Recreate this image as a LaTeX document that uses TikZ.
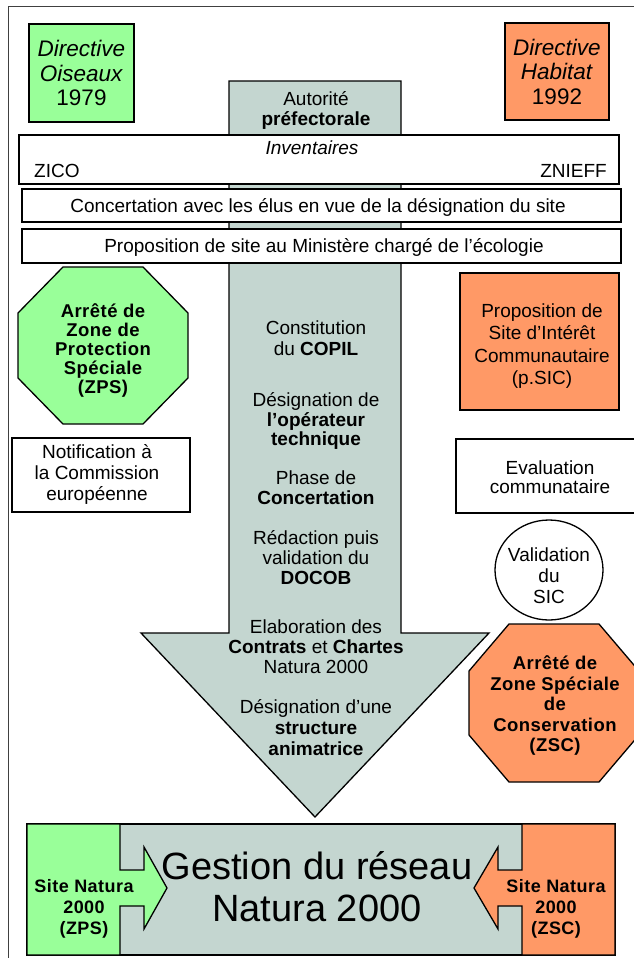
\documentclass[tikz,border=0pt]{standalone}
\usepackage{fontspec}
\setmainfont{Liberation Sans}
\usetikzlibrary{shapes.geometric}
\definecolor{vertc}{RGB}{153,255,153}
\definecolor{orangec}{RGB}{255,153,102}
\definecolor{grisv}{RGB}{196,214,208}
\newcommand{\bsp}{\bfseries\addfontfeature{LetterSpace=2.5}}
\begin{document}
\begin{tikzpicture}[x=1pt,y=-1pt,line join=miter,
  outl/.style={draw=black,line width=1.3pt},
  rbox/.style={outl,rectangle,inner sep=0pt,align=center,font=\fontsize{19}{21}\selectfont},
  txt/.style={inner sep=0pt,align=center,font=\fontsize{19}{20.5}\selectfont},
  btxt/.style={inner sep=0pt,align=center,font=\fontsize{18.5}{20}\selectfont\bsp},
  frameline/.style={draw=black!75,line width=0.8pt}]
\useasboundingbox (0,0) rectangle (634,958);
\fill[white] (0,0) rectangle (634,958);
% frame
\draw[frameline] (8,958) -- (8,6) -- (634,6);
% central arrow
\draw[outl,fill=grisv] (229,81) -- (401,81) -- (401,633) -- (489,633) -- (315,817) -- (141,633) -- (229,633) -- cycle;
% directives
\node[rbox,fill=vertc,minimum width=105pt,minimum height=98pt,font=\fontsize{22.5}{24.5}\selectfont] (oiseaux) at (81.5,73) {\textit{Directive}\\\textit{Oiseaux}\\1979};
\node[rbox,fill=orangec,minimum width=104pt,minimum height=97pt,font=\fontsize{22.5}{24.5}\selectfont] (habitat) at (557,71.5) {\textit{Directive}\\\textit{Habitat}\\1992};
\node[txt] (autorite) at (316,110.5) {Autorité\\\textbf{préfectorale}};
% horizontal boxes
\node[rbox,fill=white,minimum width=600pt,minimum height=49pt] (inventaires) at (319,159.5) {};
\node[txt] (invt) at (312,148) {\textit{Inventaires}};
\node[txt,anchor=west] (zico) at (34,171) {ZICO};
\node[txt,anchor=east] (znieff) at (607,171) {ZNIEFF};
\node[rbox,fill=white,minimum width=599pt,minimum height=33pt] (concert) at (321.5,205.5) {};
\node[txt] (concertt) at (318,207) {Concertation avec les élus en vue de la désignation du site};
\node[rbox,fill=white,minimum width=599pt,minimum height=34pt] (propo) at (321.5,246) {};
\node[txt] (propot) at (324,247) {Proposition de site au Ministère chargé de l’écologie};
% ZPS octagon
\draw[outl,fill=vertc] (63,267) -- (143,267) -- (188,313) -- (188,378) -- (143,424) -- (63,424) -- (18,378) -- (18,313) -- cycle;
\node[btxt,font=\fontsize{18.5}{19.2}\selectfont\bsp] (zps) at (103,350.5) {Arrêté de\\Zone de\\Protection\\Spéciale\\(ZPS)};
% notification
\node[rbox,fill=white,minimum width=178pt,minimum height=74pt] (notif) at (101,475) {};
\node[txt,font=\fontsize{19}{21}\selectfont] (notift) at (97,474) {Notification à\\la Commission\\européenne};
% pSIC
\node[rbox,fill=orangec,minimum width=159pt,minimum height=137pt] (psic) at (539.5,341.5) {};
\node[txt,font=\fontsize{19}{22.5}\selectfont] (psict) at (542,346) {Proposition de\\Site d’Intérêt\\Communautaire\\(p.SIC)};
% evaluation
\node[rbox,fill=white,minimum width=194pt,minimum height=74pt] (evalb) at (553,476) {};
\node[txt,font=\fontsize{19}{19.5}\selectfont] (evalt) at (550,477) {Evaluation\\communataire};
% validation
\node[outl,ellipse,fill=white,minimum width=108pt,minimum height=100pt,inner sep=0pt] (valid) at (549,570) {};
\node[txt,font=\fontsize{19}{21}\selectfont] (validt) at (549,576) {Validation\\du\\SIC};
% ZSC octagon
\draw[outl,fill=orangec] (509,624) -- (599,624) -- (639,671) -- (639,735) -- (599,782) -- (509,782) -- (469,735) -- (469,671) -- cycle;
\node[btxt,font=\fontsize{18.5}{20.5}\selectfont\bsp] (zsc) at (555,706) {Arrêté de\\Zone Spéciale\\de\\Conservation\\(ZSC)};
% central steps
\node[txt] (copil) at (316,338) {Constitution\\du \textbf{COPIL}};
\node[txt,font=\fontsize{19}{19.5}\selectfont] (operateur) at (316,421) {Désignation de\\\textbf{l’opérateur}\\\textbf{technique}};
\node[txt,font=\fontsize{19}{19.5}\selectfont] (phase) at (316,487.5) {Phase de\\\textbf{Concertation}};
\node[txt,font=\fontsize{19}{20}\selectfont] (docob) at (316,558) {Rédaction puis\\validation du\\\textbf{DOCOB}};
\node[txt,font=\fontsize{19}{20}\selectfont] (contrats) at (316,647) {Elaboration des\\\textbf{Contrats} et \textbf{Chartes}\\Natura 2000};
\node[txt,font=\fontsize{19}{21}\selectfont] (structure) at (316,728) {Désignation d’une\\\textbf{structure}\\\textbf{animatrice}};
% bottom
\node[outl,rectangle,fill=grisv,minimum width=588pt,minimum height=131pt,inner sep=0pt] (gestionbox) at (321,889.5) {};
\draw[outl,fill=vertc] (27,824) -- (120,824) -- (120,870) -- (144,870) -- (144,847) -- (167,888) -- (144,929) -- (144,906) -- (120,906) -- (120,955) -- (27,955) -- cycle;
\draw[outl,fill=orangec] (615,824) -- (522,824) -- (522,870) -- (498,870) -- (498,847) -- (474,888) -- (498,929) -- (498,906) -- (522,906) -- (522,955) -- (615,955) -- cycle;
\node[txt,font=\fontsize{38}{42}\selectfont] (gestion) at (317,886.5) {Gestion du réseau\\Natura 2000};
\node[btxt,font=\fontsize{18}{21}\selectfont\bsp] (sitezps) at (84,909) {Site Natura\\2000\\(ZPS)};
\node[btxt,font=\fontsize{18}{21}\selectfont\bsp] (sitezsc) at (556,909) {Site Natura\\2000\\(ZSC)};
\end{tikzpicture}
\end{document}
